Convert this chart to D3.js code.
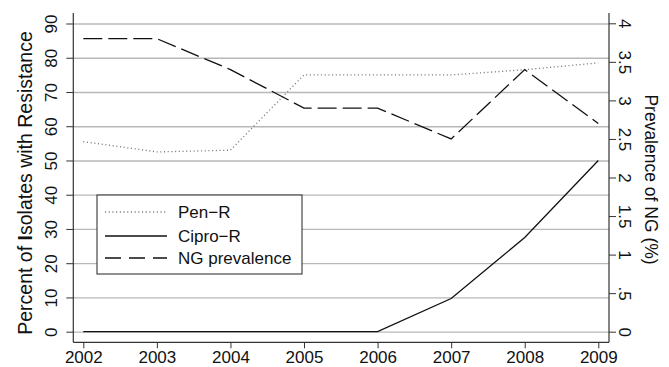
<!DOCTYPE html>
<html>
<head>
<meta charset="utf-8">
<script src="https://cdn.jsdelivr.net/npm/d3@7"></script>
<style>
  body { margin: 0; background: #fff; }
  text { font-family: "Liberation Sans", Arial, sans-serif; fill: #111; }
</style>
</head>
<body>
<div id="chart"></div>
<script>
// data
const years = [2002, 2003, 2004, 2005, 2006, 2007, 2008, 2009];
const penR = [55.5, 52.5, 53, 75, 75, 75, 76.5, 78.5];
const ciproR = [0, 0, 0, 0, 0, 9.7, 27.5, 50];
const ngPrev = [3.8, 3.8, 3.4, 2.9, 2.9, 2.5, 3.4, 2.7];
const leftTicks = [0, 10, 20, 30, 40, 50, 60, 70, 80, 90];
const rightTicks = [0, 0.5, 1, 1.5, 2, 2.5, 3, 3.5, 4];
const legendLabels = ["Pen\u2212R", "Cipro\u2212R", "NG prevalence"];

const W = 669, H = 367;
const tickFont = "17px";
// plot frame
const frame = { left: 73.3, right: 609, top: 13, bottom: 342.3 };

const svg = d3.select("#chart").append("svg")
  .attr("width", W).attr("height", H);

const x = d3.scaleLinear().domain([2002, 2009]).range([83.3, 598.3]);
const yL = d3.scaleLinear().domain([0, 90]).range([331.7, 23.5]);
const yR = d3.scaleLinear().domain([0, 4]).range([331.7, 23.3]);

// gridlines from left axis
svg.append("g")
  .attr("transform", `translate(${frame.left},0)`)
  .call(d3.axisLeft(yL).tickValues(leftTicks).tickSize(-(frame.right - frame.left)).tickFormat(""))
  .call(g => g.select(".domain").remove())
  .call(g => g.selectAll("line").attr("stroke", "#b8b8b8").attr("stroke-width", 1.3));

// left axis
const axL = svg.append("g")
  .attr("transform", `translate(${frame.left},0)`)
  .call(d3.axisLeft(yL).tickValues(leftTicks).tickSize(7).tickFormat(d3.format("d")));
axL.select(".domain").remove();
axL.selectAll("line").attr("stroke", "#333");
axL.selectAll("text")
  .attr("x", 0).attr("dy", 0)
  .attr("transform", "translate(-16,0) rotate(-90)")
  .attr("text-anchor", "middle")
  .style("font-size", tickFont).style("font-family", "Liberation Sans, Arial, sans-serif")
  .attr("fill", "#111");

// right axis
const fmtR = d => d === 0 ? "0" : (d < 1 ? String(d).replace(/^0/, "") : String(d));
const axR = svg.append("g")
  .attr("transform", `translate(${frame.right},0)`)
  .call(d3.axisRight(yR).tickValues(rightTicks).tickSize(7).tickFormat(fmtR));
axR.select(".domain").remove();
axR.selectAll("line").attr("stroke", "#333");
axR.selectAll("text")
  .attr("x", 0).attr("dy", 0)
  .attr("transform", "translate(9.5,0) rotate(90)")
  .attr("text-anchor", "middle")
  .style("font-size", tickFont).style("font-family", "Liberation Sans, Arial, sans-serif")
  .attr("fill", "#111");

// bottom axis
const axB = svg.append("g")
  .attr("transform", `translate(0,${frame.bottom})`)
  .call(d3.axisBottom(x).tickValues(years).tickSize(6).tickFormat(d3.format("d")));
axB.select(".domain").remove();
axB.selectAll("line").attr("stroke", "#333");
axB.selectAll("text")
  .attr("y", 21).attr("dy", 0)
  .style("font-size", tickFont).style("font-family", "Liberation Sans, Arial, sans-serif")
  .attr("fill", "#111");

// frame lines (no top border)
const axisColor = "#333";
svg.append("line").attr("x1", frame.left).attr("x2", frame.left)
  .attr("y1", frame.top).attr("y2", frame.bottom).attr("stroke", axisColor).attr("stroke-width", 1.2);
svg.append("line").attr("x1", frame.right).attr("x2", frame.right)
  .attr("y1", frame.top).attr("y2", frame.bottom).attr("stroke", axisColor).attr("stroke-width", 1.2);
svg.append("line").attr("x1", frame.left).attr("x2", frame.right)
  .attr("y1", frame.bottom).attr("y2", frame.bottom).attr("stroke", axisColor).attr("stroke-width", 1.2);

// series
const styles = [
  { stroke: "#7a7a7a", width: 1.3, dash: "1.1,2.6" },
  { stroke: "#111", width: 1.3, dash: null },
  { stroke: "#111", width: 1.3, dash: "19,6" }
];

const lineL = d3.line().x((d, i) => x(years[i])).y(d => yL(d));
const lineR = d3.line().x((d, i) => x(years[i])).y(d => yR(d));

svg.append("path").datum(penR).attr("d", lineL)
  .attr("fill", "none").attr("stroke", styles[0].stroke)
  .attr("stroke-width", styles[0].width).attr("stroke-dasharray", styles[0].dash);
svg.append("path").datum(ciproR).attr("d", lineL)
  .attr("fill", "none").attr("stroke", styles[1].stroke)
  .attr("stroke-width", styles[1].width);
svg.append("path").datum(ngPrev).attr("d", lineR)
  .attr("fill", "none").attr("stroke", styles[2].stroke)
  .attr("stroke-width", styles[2].width).attr("stroke-dasharray", styles[2].dash);

// legend
const leg = svg.append("g").attr("transform", "translate(97,195)");
leg.append("rect").attr("width", 205).attr("height", 79)
  .attr("fill", "#fff").attr("stroke", "#222").attr("stroke-width", 1);
const rowY = [17, 41, 63];
legendLabels.forEach((lab, i) => {
  leg.append("line").attr("x1", 8).attr("x2", 70)
    .attr("y1", rowY[i]).attr("y2", rowY[i])
    .attr("stroke", styles[i].stroke).attr("stroke-width", styles[i].width)
    .attr("stroke-dasharray", i === 2 ? "16,8" : styles[i].dash);
  leg.append("text").attr("x", 81).attr("y", rowY[i] + 6)
    .style("font-size", "17px").text(lab);
});

// axis titles
const tL = svg.append("text")
  .attr("transform", "translate(32,183) rotate(-90)")
  .attr("text-anchor", "middle")
  .style("font-size", "19.5px");
tL.append("tspan").text("Percent of ");
tL.append("tspan").style("font-weight", "bold").text("I");
tL.append("tspan").text("solates with Resistance");

svg.append("text")
  .attr("transform", "translate(645,179.5) rotate(90)")
  .attr("text-anchor", "middle")
  .style("font-size", "17.5px")
  .text("Prevalence of NG (%)");
</script>
</body>
</html>
